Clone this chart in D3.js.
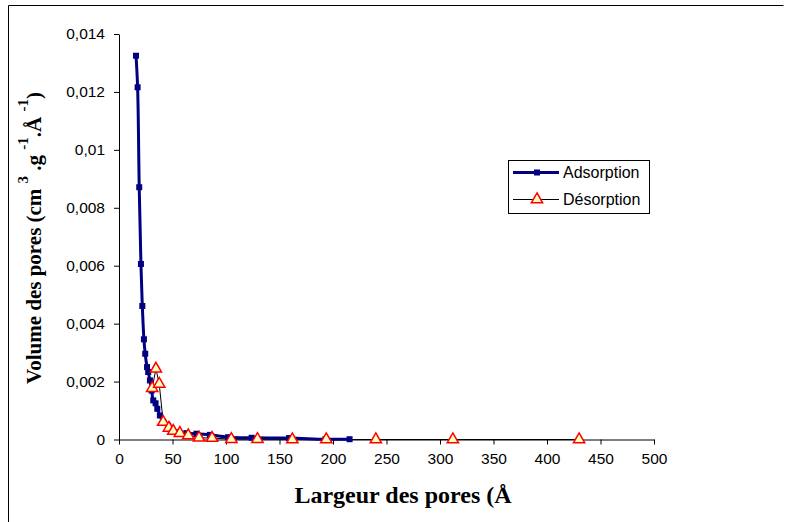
<!DOCTYPE html>
<html>
<head>
<meta charset="utf-8">
<script src="https://cdn.jsdelivr.net/npm/d3@7"></script>
<style>
	body { margin: 0; background: #fff; }
	svg { display: block; }
	.tick text { font-family: "Liberation Sans", Arial, sans-serif; font-size: 15.5px; fill: #000; }
</style>
</head>
<body>
<div id="chart"></div>
<script>
(function () {
	// pore width (Å) and pore volume (cm3/g/Å)
	let adsX = [15.9, 17.4, 18.9, 20.5, 21.8, 23.3, 24.5, 26.2, 27.3, 28.9, 30.5, 32, 34.2, 35.8, 38.2, 41.3, 46, 49.1, 55.3, 63, 72.4, 84.9, 102, 124, 159, 193, 215.5];
	let adsY = [0.01325, 0.01216, 0.00871, 0.00606, 0.00461, 0.00346, 0.00296, 0.0025, 0.00233, 0.00204, 0.00169, 0.00135, 0.00125, 0.00106, 0.00083, 0.0006, 0.00048, 0.00037, 0.00025, 0.00022, 0.0002, 0.00016, 0.00008, 0.00006, 0.00005, 0.00001, 0.00001];
	let desX = [31, 34.5, 37.6, 41.3, 46.6, 50.7, 56.9, 64.7, 74.8, 87, 105, 129.4, 162, 193.7, 240, 312, 430];
	let desY = [0.00177, 0.00244, 0.00192, 0.0006, 0.0004, 0.00029, 0.00022, 0.00014, 0.00006, 0.00005, 0.00001, 0.00001, 0, 0, 0, 0, 0];
	let xTicks = [0, 50, 100, 150, 200, 250, 300, 350, 400, 450, 500];
	let yTicks = [0, 0.002, 0.004, 0.006, 0.008, 0.01, 0.012, 0.014];
	let seriesNames = ["Adsorption", "Désorption"];

	let W = 791, H = 522;
	let svg = d3.select("#chart").append("svg")
		.attr("width", W)
		.attr("height", H);

	// outer frame (left and top edges only are visible)
	svg.append("path")
		.attr("d", "M8.5," + H + "V5.5H783.5")
		.attr("fill", "none")
		.attr("stroke", "#000")
		.attr("stroke-width", 1);

	let x = d3.scaleLinear().domain([0, 500]).range([119, 654]);
	let y = d3.scaleLinear().domain([0, 0.014]).range([439.5, 34]);

	svg.append("g")
		.attr("transform", "translate(0," + y(0) + ")")
		.call(d3.axisBottom(x).tickValues(xTicks).tickSize(5).tickPadding(8).tickSizeOuter(0));
	svg.append("g")
		.attr("transform", "translate(" + x(0) + ",0)")
		.call(d3.axisLeft(y).tickValues(yTicks).tickSize(5).tickPadding(9).tickSizeOuter(0)
			.tickFormat(function(d){ return String(d).replace(".", ","); }));
	svg.selectAll(".domain, .tick line").attr("stroke", "#000");

	let desData = desX.map(function(v,i){ return [v, desY[i]]; });
	let adsData = adsX.map(function(v,i){ return [v, adsY[i]]; });

	// desorption : thin black line
	svg.append("path")
		.datum(desData)
		.attr("fill", "none")
		.attr("stroke", "#000")
		.attr("stroke-width", 1)
		.attr("d", d3.line().x(function(d){ return x(d[0]); }).y(function(d){ return y(d[1]); }));

	// adsorption : thick smoothed navy line with squares
	svg.append("path")
		.datum(adsData)
		.attr("fill", "none")
		.attr("stroke", "#000080")
		.attr("stroke-width", 3)
		.attr("d", d3.line().curve(d3.curveCatmullRom.alpha(0.5)).x(function(d){ return x(d[0]); }).y(function(d){ return y(d[1]); }));

	svg.selectAll(".sq")
		.data(adsData)
		.enter()
		.append("rect")
		.attr("class", "sq")
		.attr("x", function(d){ return x(d[0]) - 3; })
		.attr("y", function(d){ return y(d[1]) - 3; })
		.attr("width", 6)
		.attr("height", 6)
		.attr("fill", "#000080");

	let tri = d3.symbol().type(d3.symbolTriangle).size(55);
	svg.selectAll(".tri")
		.data(desData)
		.enter()
		.append("path")
		.attr("class", "tri")
		.attr("d", tri)
		.attr("transform", function(d){ return "translate(" + x(d[0]) + "," + y(d[1]) + ")"; })
		.attr("fill", "#ffffc0")
		.attr("stroke", "#ff0000")
		.attr("stroke-width", 1.5);

	// legend
	let leg = svg.append("g");
	leg.append("rect")
		.attr("x", 508.5).attr("y", 160.5)
		.attr("width", 141).attr("height", 53)
		.attr("fill", "#fff").attr("stroke", "#000").attr("stroke-width", 1);
	leg.append("line").attr("x1", 513).attr("x2", 559).attr("y1", 172.5).attr("y2", 172.5)
		.attr("stroke", "#000080").attr("stroke-width", 3);
	leg.append("rect").attr("x", 534).attr("y", 169.5).attr("width", 6).attr("height", 6).attr("fill", "#000080");
	leg.append("line").attr("x1", 513).attr("x2", 559).attr("y1", 199.5).attr("y2", 199.5)
		.attr("stroke", "#000").attr("stroke-width", 1);
	leg.append("path").attr("d", tri).attr("transform", "translate(537,199.5)")
		.attr("fill", "#ffffc0").attr("stroke", "#ff0000").attr("stroke-width", 1.5);
	leg.selectAll(".legtxt")
		.data(seriesNames)
		.enter()
		.append("text")
		.attr("x", 563)
		.attr("y", function(d,i){ return 178 + i*27; })
		.style("font-family", "'Liberation Sans', Arial, sans-serif")
		.style("font-size", "16px")
		.text(function(d){ return d; });

	// axis titles
	svg.append("text")
		.attr("x", 403).attr("y", 503)
		.attr("text-anchor", "middle")
		.style("font-family", "'Liberation Serif', 'Times New Roman', serif")
		.style("font-weight", "bold")
		.style("font-size", "24px")
		.text("Largeur des pores (Å");

	let yt = svg.append("text")
		.attr("transform", "translate(41,238) rotate(-90)")
		.attr("text-anchor", "middle")
		.style("font-family", "'Liberation Serif', 'Times New Roman', serif")
		.style("font-weight", "bold")
		.style("font-size", "21px");
	yt.append("tspan").text("Volume des pores (cm ");
	yt.append("tspan").attr("dy", -13).style("font-size", "15px").text("3");
	yt.append("tspan").attr("dy", 13).text(" .g ");
	yt.append("tspan").attr("dy", -13).style("font-size", "15px").text("-1");
	yt.append("tspan").attr("dy", 13).text(".Å ");
	yt.append("tspan").attr("dy", -13).style("font-size", "15px").text("-1");
	yt.append("tspan").attr("dy", 13).text(")");
})();
</script>
</body>
</html>
